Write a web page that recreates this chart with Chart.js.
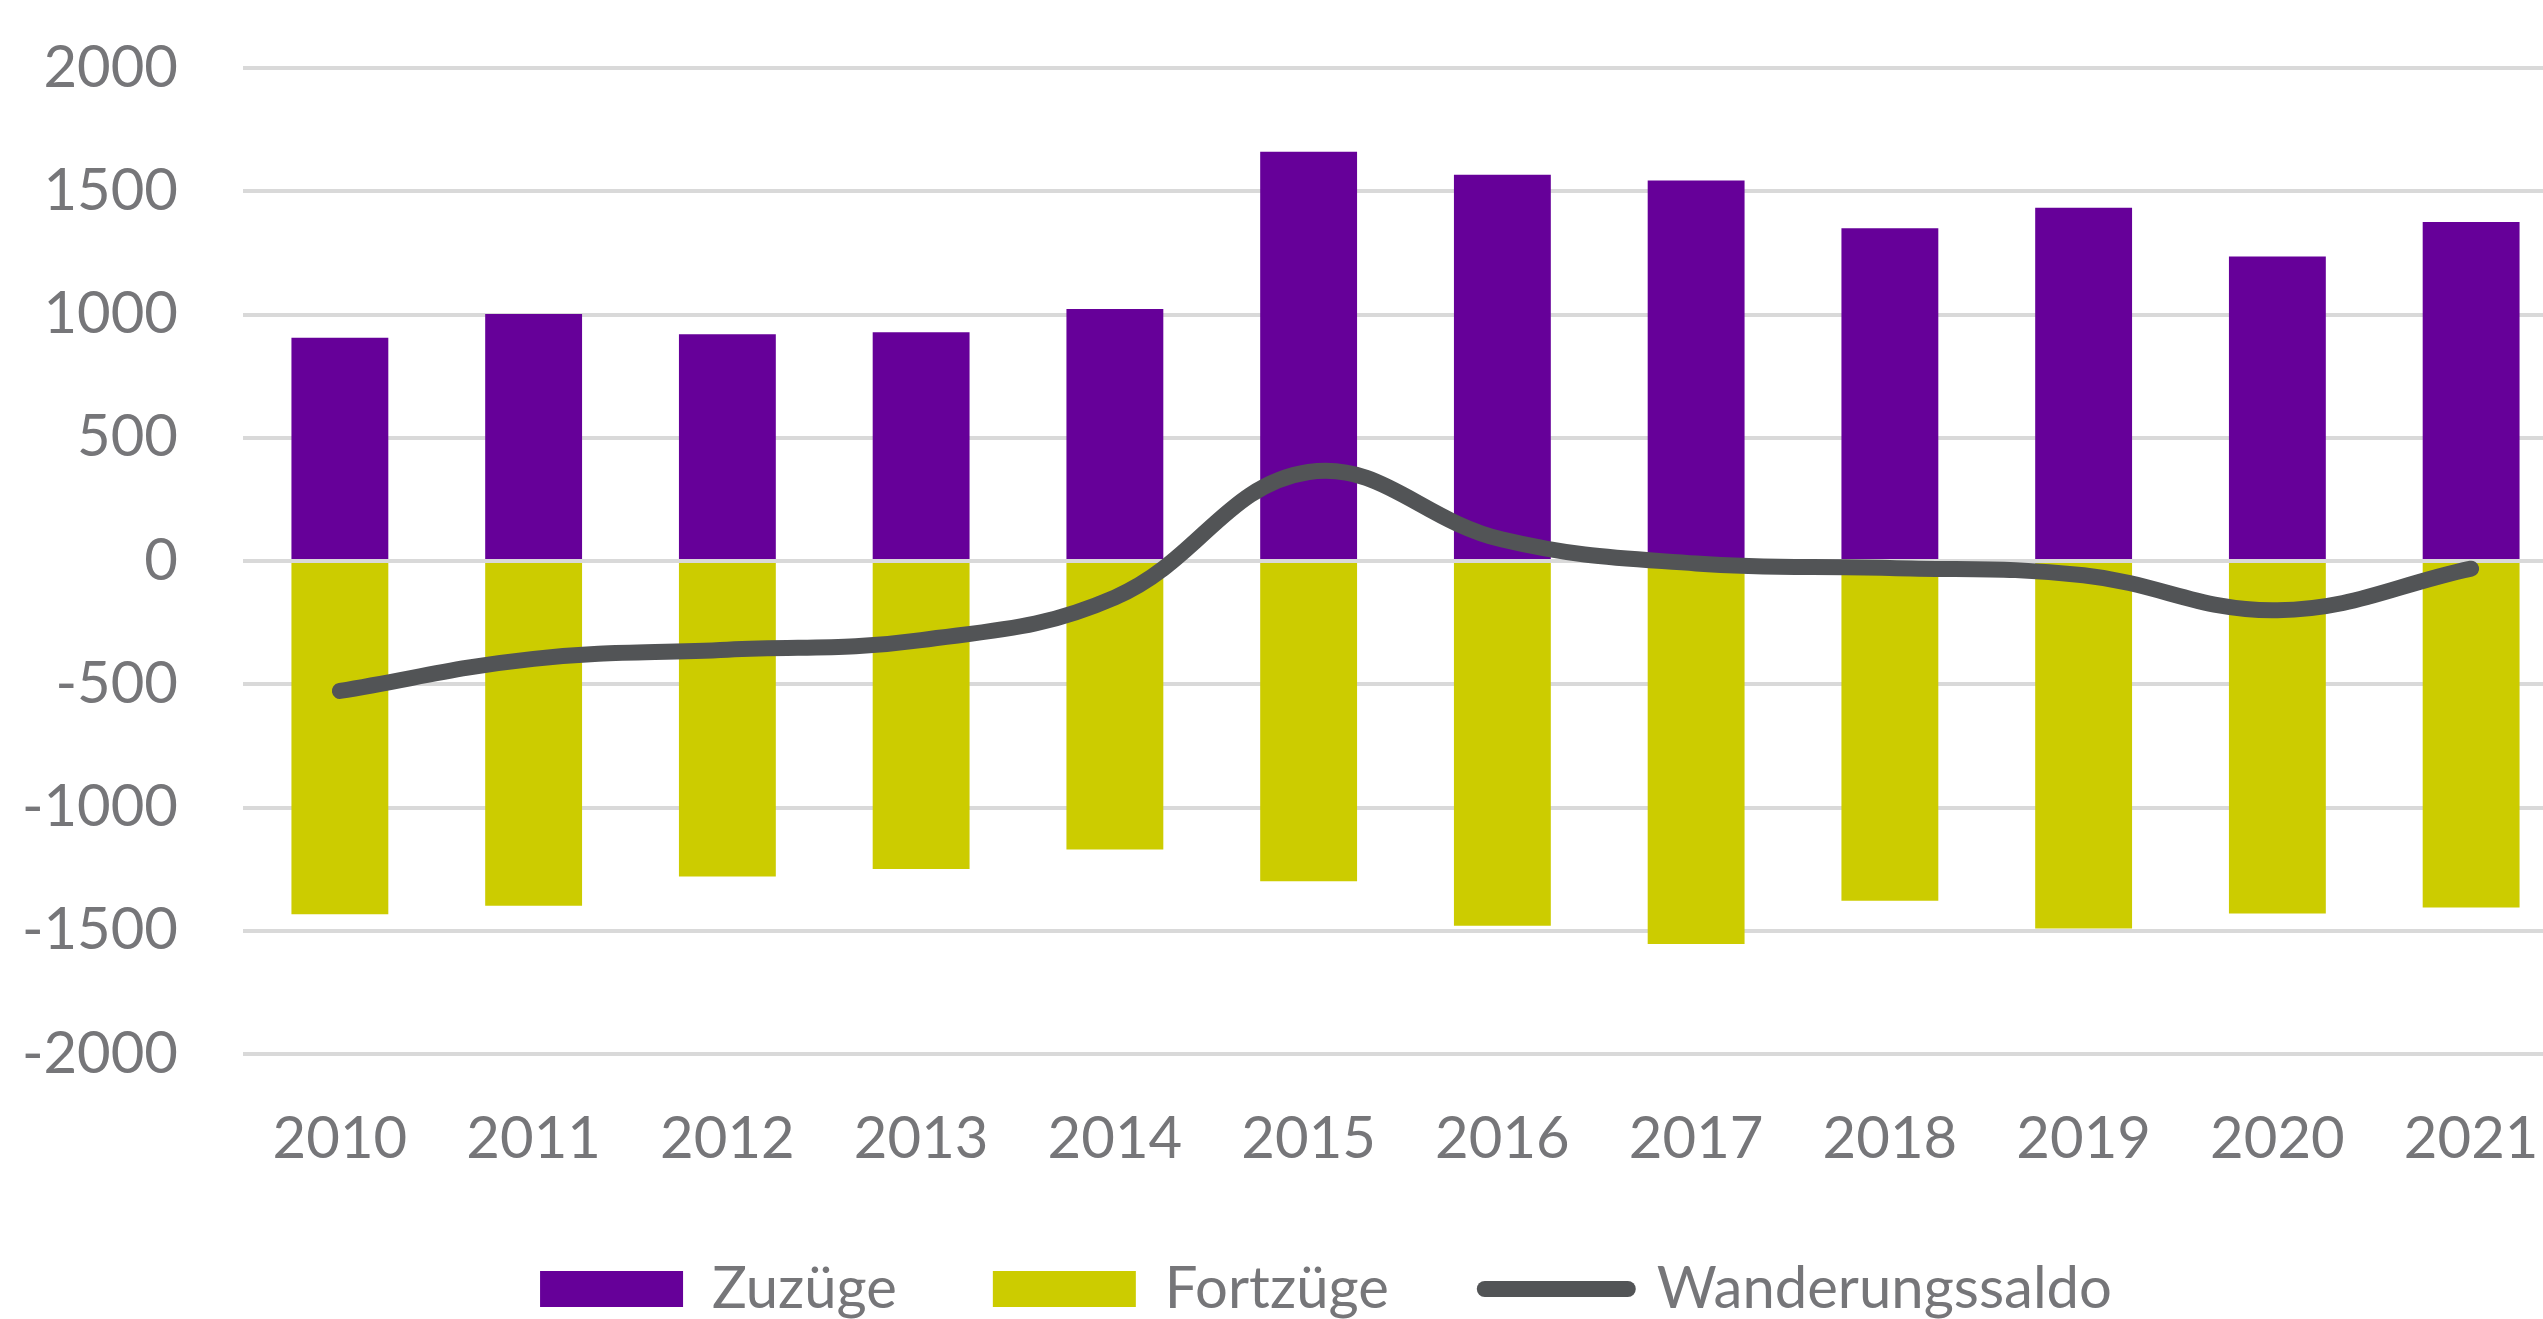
<!DOCTYPE html>
<html>
<head>
<meta charset="utf-8">
<script src="https://cdn.jsdelivr.net/npm/chart.js@4/dist/chart.umd.min.js"></script>
<style>
    html, body { margin: 0; padding: 0; background: #fff; overflow: hidden; }
    #wrap { position: absolute; left: 0; top: 0; width: 2650px; height: 1340px; }
</style>
</head>
<body>
<div id="wrap"><canvas id="chart"></canvas></div>
<script>
const years = ['2010', '2011', '2012', '2013', '2014', '2015', '2016', '2017', '2018', '2019', '2020', '2021'];
const zuzuege = [906, 1002, 920, 928, 1022, 1660, 1567, 1544, 1350, 1433, 1235, 1375];
const fortzuege = [-1433, -1399, -1280, -1249, -1170, -1299, -1480, -1554, -1378, -1491, -1430, -1406];
const saldo = [-527, -397, -360, -321, -148, 361, 87, -10, -28, -58, -200, -31];
const yTicks = [-2000, -1500, -1000, -500, 0, 500, 1000, 1500, 2000];

const purple = '#660099';
const yellow = '#cccc00';
const grey = '#525456';
const textGrey = '#767679';

Chart.defaults.font.family = 'Lato';
Chart.defaults.color = textGrey;

// legend sits a bit right of the canvas centre in the original
const legendShift = {
    id: 'legendShift',
    afterLayout(chart) {
        chart.legend.left += 42;
        chart.legend.right += 42;
    }
};

new Chart(document.getElementById('chart'), {
    data: {
        labels: years,
        datasets: [
            {
                type: 'bar',
                label: 'Zuzüge',
                data: zuzuege,
                backgroundColor: purple,
                grouped: false,
                barPercentage: 0.5,
                categoryPercentage: 1,
                order: 2
            },
            {
                type: 'bar',
                label: 'Fortzüge',
                data: fortzuege,
                backgroundColor: yellow,
                grouped: false,
                barPercentage: 0.5,
                categoryPercentage: 1,
                order: 2
            },
            {
                type: 'line',
                label: 'Wanderungssaldo',
                data: saldo,
                borderColor: grey,
                backgroundColor: grey,
                borderWidth: 16,
                borderCapStyle: 'round',
                borderJoinStyle: 'round',
                pointRadius: 0,
                tension: 0.4,
                order: 1
            }
        ]
    },
    plugins: [legendShift],
    options: {
        responsive: true,
        maintainAspectRatio: false,
        animation: false,
        devicePixelRatio: 1,
        layout: { padding: { top: 68, right: 82, bottom: 12, left: 0 } },
        plugins: {
            tooltip: { enabled: false },
            legend: {
                position: 'bottom',
                labels: {
                    usePointStyle: true,
                    pointStyleWidth: 143,
                    boxHeight: 36,
                    padding: 96,
                    color: textGrey,
                    font: { size: 58 },
                    sort: (a, b) => a.datasetIndex - b.datasetIndex,
                    generateLabels: chart => {
                        const items = Chart.defaults.plugins.legend.labels.generateLabels(chart);
                        items.forEach(item => {
                            const ds = chart.data.datasets[item.datasetIndex];
                            if (ds.type === 'line') {
                                item.pointStyle = 'line';
                                item.lineWidth = 16;
                                item.strokeStyle = grey;
                                item.lineCap = 'round';
                            } else {
                                item.pointStyle = 'rect';
                                item.lineWidth = 0;
                                item.fillStyle = ds.backgroundColor;
                            }
                        });
                        return items;
                    }
                }
            }
        },
        scales: {
            x: {
                grid: { display: false, drawTicks: false },
                border: { display: false },
                ticks: { padding: 50, color: textGrey, font: { size: 58 } },
                afterFit: scale => { scale.height = 110; }
            },
            y: {
                min: -2000,
                max: 2000,
                afterBuildTicks: scale => {
                    scale.ticks = yTicks.map(v => ({ value: v }));
                },
                // invisible tick marks give the gap between labels and plot
                grid: {
                    color: '#d9d9d9',
                    lineWidth: 4,
                    drawTicks: true,
                    tickLength: 62,
                    tickColor: 'rgba(0,0,0,0)'
                },
                border: { display: false },
                ticks: {
                    padding: 3,
                    color: textGrey,
                    font: { size: 58 },
                    callback: value => String(value)
                },
                afterFit: scale => { scale.width = 243; }
            }
        }
    }
});
</script>
</body>
</html>
